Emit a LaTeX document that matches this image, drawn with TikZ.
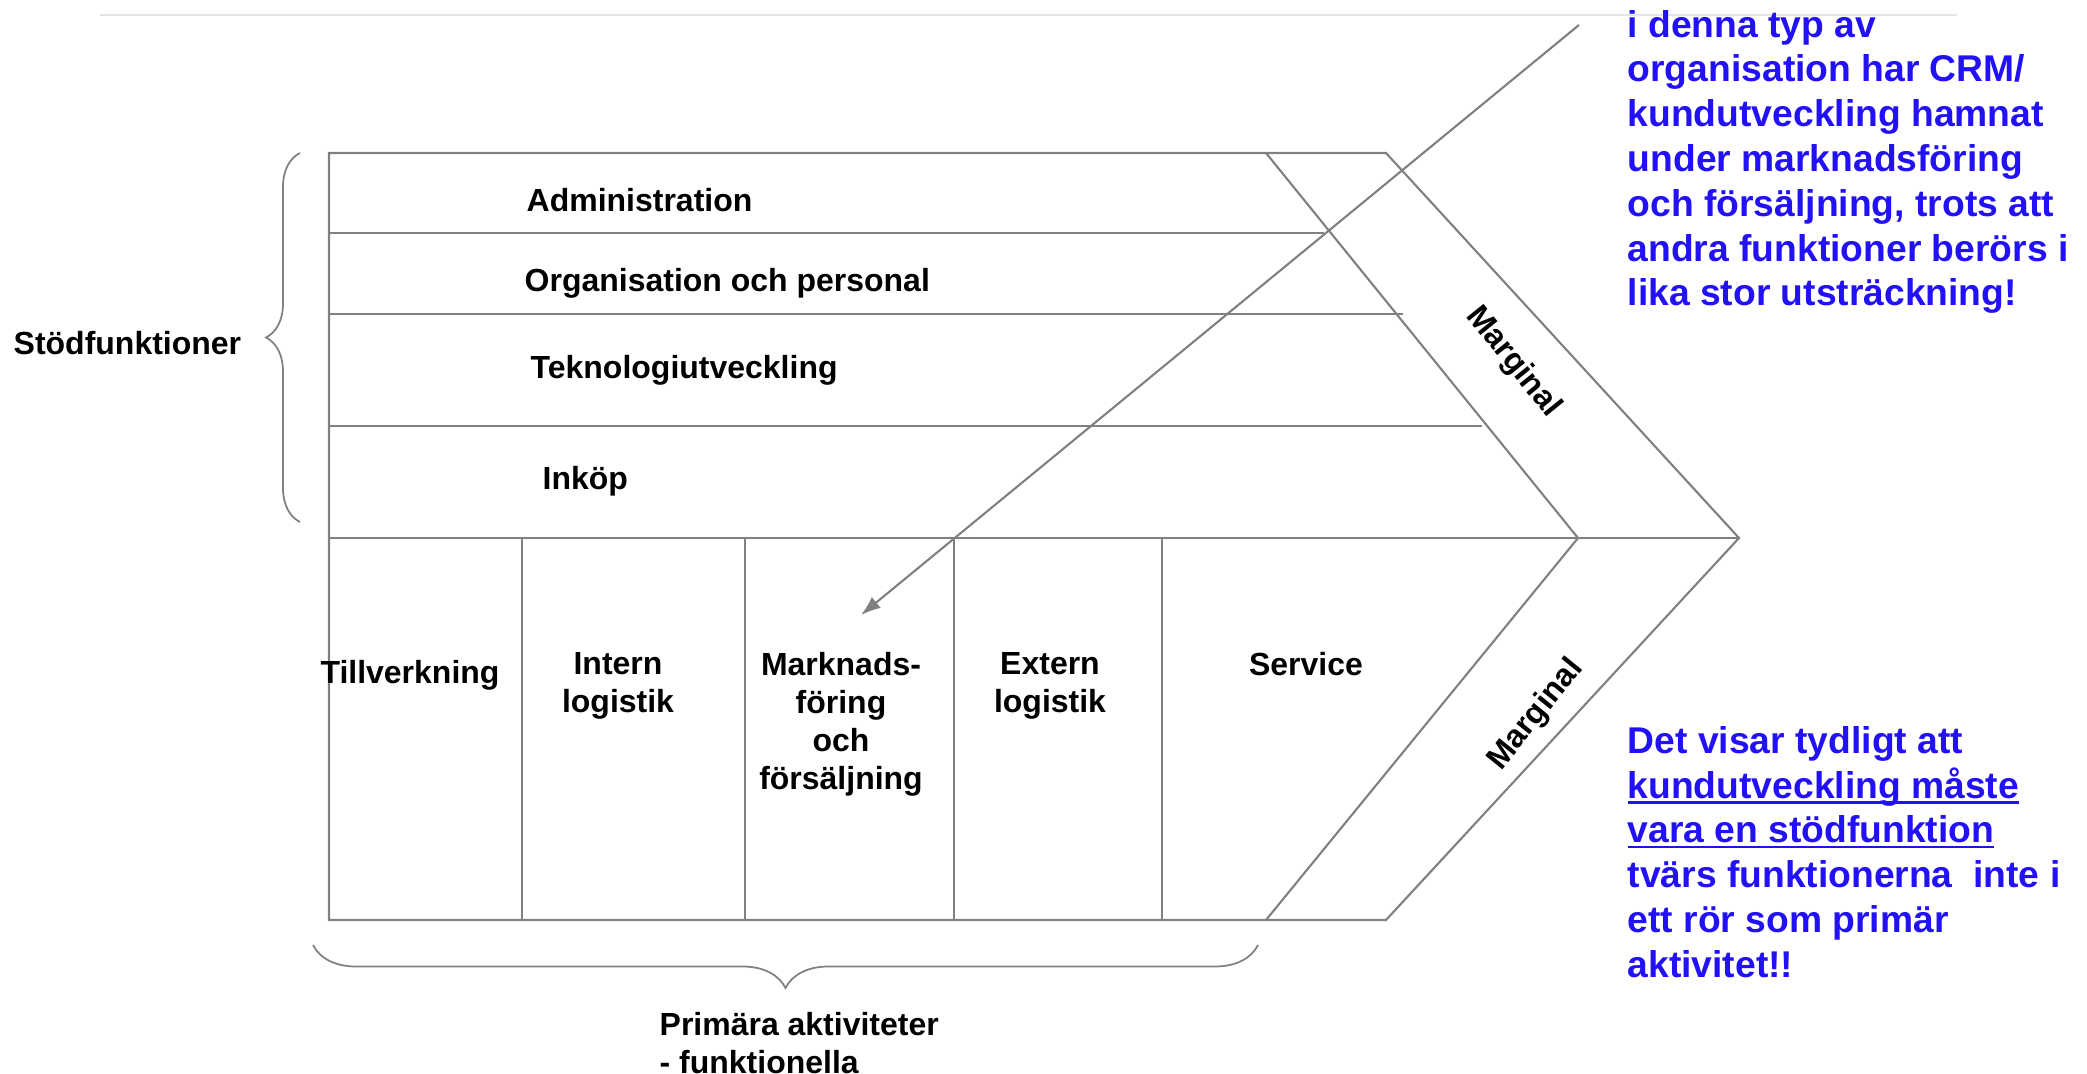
\documentclass[tikz,border=0pt]{standalone}
\usepackage{fontspec}
\setmainfont{Liberation Sans}
\usetikzlibrary{calc,arrows.meta,decorations.pathreplacing}

\definecolor{linegray}{RGB}{128,128,128}
\definecolor{rulegray}{RGB}{229,229,229}
\definecolor{noteblue}{RGB}{34,17,245}

\newcommand\undl[1]{\setbox0\hbox{#1}\rlap{\vrule height -0.07em depth 0.145em width \wd0}#1}

\tikzset{
  frame/.style={linegray,line width=0.6pt},
  lbl/.style={inner sep=0pt,align=center,font=\fontsize{9.1}{10.8}\selectfont\bfseries},
  note/.style={inner sep=0pt,align=left,text=noteblue,font=\fontsize{10.6}{12.75}\selectfont\bfseries},
  curly/.style={linegray,line width=0.5pt,decorate,decoration={brace,amplitude=#1}}
}

\begin{document}
\begin{tikzpicture}
  \useasboundingbox (0,0) rectangle (20.87,-10.74);
  \draw[rulegray,line width=0.6pt] (1.00,-0.15) -- (19.57,-0.15);

  \coordinate (top left) at (3.29,-1.53);
  \coordinate (bottom left) at (3.29,-9.20);
  \coordinate (inner top) at (12.66,-1.53);
  \coordinate (inner apex) at (15.78,-5.38);
  \coordinate (inner bottom) at (12.66,-9.20);
  \coordinate (outer top) at (13.86,-1.53);
  \coordinate (outer apex) at (17.39,-5.38);
  \coordinate (outer bottom) at (13.86,-9.20);
  \coordinate (split) at (3.29,-5.38);

  \draw[frame] (outer top) -- (top left) -- (bottom left) -- (outer bottom) -- (outer apex) -- cycle;
  \draw[frame] (inner top) -- (inner apex) -- (inner bottom);
  \draw[frame] (split) -- (outer apex);

  \draw[frame] (3.29,-2.33) -- (13.24,-2.33);
  \draw[frame] (3.29,-3.14) -- (14.03,-3.14);
  \draw[frame] (3.29,-4.26) -- (14.82,-4.26);
  \foreach \x in {5.22,7.45,9.54,11.62}
    \draw[frame] (\x,-5.38) -- (\x,-9.20);

  \node[lbl,anchor=west] (admin) at (5.26,-2.00) {Administration};
  \node[lbl,anchor=west] (orgpers) at (5.24,-2.83) {Organisation och personal};
  \node[lbl,anchor=west] (teknik) at (5.30,-3.70) {Teknologiutveckling};
  \node[lbl,anchor=west] (inkop) at (5.42,-4.81) {Inköp};

  \node[lbl] (tillv) at (4.10,-6.75) {Tillverkning};
  \node[lbl] (intern) at (6.18,-6.86) {Intern\\logistik};
  \node[lbl] (marknad) at (8.41,-7.24) {Marknads-\\föring\\och\\försäljning};
  \node[lbl] (extern) at (10.50,-6.86) {Extern\\logistik};
  \node[lbl] (service) at (13.06,-6.64) {Service};

  \node[lbl,rotate=-51] (marg upper) at (15.13,-3.62) {Marginal};
  \node[lbl,rotate=51] (marg lower) at (15.36,-7.15) {Marginal};

  \draw[curly=0.34cm] (3.00,-5.22) -- (3.00,-1.53);
  \node[lbl,anchor=west] (stod) at (0.13,-3.43) {Stödfunktioner};
  \draw[curly=0.43cm] (12.58,-9.45) -- (3.13,-9.45);
  \node[lbl,align=left,anchor=west] (primara) at (6.59,-10.43) {Primära aktiviteter\\- funktionella};

  \coordinate (arrow start) at (15.79,-0.25);
  \coordinate (arrow end) at (8.61,-6.15);
  \draw[linegray,line width=0.6pt,-{Latex[length=5.6pt,width=4pt]}] (arrow start) -- (arrow end);

  \node[note,anchor=west] (crm note) at (16.27,-1.62) {i denna typ av\\organisation har CRM/\\kundutveckling hamnat\\under marknadsföring\\och försäljning, trots att\\andra funktioner berörs i\\lika stor utsträckning!};
  \node[note,anchor=west] (stod note) at (16.27,-8.52) {Det visar tydligt att\\\undl{kundutveckling måste}\\\undl{vara en stödfunktion}\\tvärs funktionerna\ \ inte i\\ett rör som primär\\aktivitet!!};
\end{tikzpicture}
\end{document}
